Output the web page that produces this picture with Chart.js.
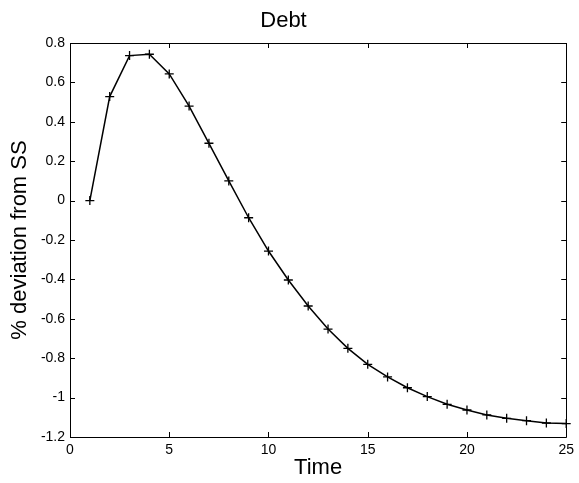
<!DOCTYPE html>
<html>
<head>
<meta charset="utf-8">
<script src="https://cdn.jsdelivr.net/npm/chart.js@4"></script>
<style>
  html, body { margin: 0; padding: 0; background: #fff; }
  #wrap { position: relative; width: 579px; height: 483px; }
</style>
</head>
<body>
<div id="wrap"><canvas id="debtChart"></canvas></div>
<script>
// impulse response of debt, % deviation from steady state
const periods = [1, 2, 3, 4, 5, 6, 7, 8, 9, 10, 11, 12, 13, 14, 15, 16, 17, 18, 19, 20, 21, 22, 23, 24, 25];
const debtDev = [0, 0.528, 0.736, 0.743, 0.643, 0.48, 0.291, 0.10, -0.087, -0.256, -0.403, -0.535, -0.652, -0.75,
                 -0.831, -0.895, -0.95, -0.995, -1.034, -1.063, -1.088, -1.105, -1.117, -1.129, -1.132];
const xTicks = [0, 5, 10, 15, 20, 25];
const yTicks = [0.8, 0.6, 0.4, 0.2, 0, -0.2, -0.4, -0.6, -0.8, -1, -1.2];

const FONT = '"Liberation Sans", Arial, Helvetica, sans-serif';

// matlab-style box with inward tick marks on all four sides
const boxTicks = {
    id: 'boxTicks',
    afterDraw(chart) {
        const { ctx, chartArea: a, scales: { x, y } } = chart;
        const len = 5;
        ctx.save();
        ctx.strokeStyle = '#000';
        ctx.lineWidth = 1;
        ctx.beginPath();
        ctx.rect(Math.round(a.left) + 0.5, Math.round(a.top) + 0.5,
                 Math.round(a.right - a.left), Math.round(a.bottom - a.top));
        xTicks.forEach(v => {
            const px = Math.round(x.getPixelForValue(v)) + 0.5;
            ctx.moveTo(px, a.bottom); ctx.lineTo(px, a.bottom - len);
            ctx.moveTo(px, a.top); ctx.lineTo(px, a.top + len);
        });
        yTicks.forEach(v => {
            const py = Math.round(y.getPixelForValue(v)) + 0.5;
            ctx.moveTo(a.left, py); ctx.lineTo(a.left + len, py);
            ctx.moveTo(a.right, py); ctx.lineTo(a.right - len, py);
        });
        ctx.stroke();
        ctx.restore();
    }
};

new Chart(document.getElementById('debtChart'), {
    type: 'line',
    data: {
        datasets: [{
            label: 'Debt',
            data: periods.map((t, i) => ({ x: t, y: debtDev[i] })),
            borderColor: '#000',
            borderWidth: 1.5,
            pointStyle: 'cross',
            pointRadius: 4.5,
            pointBorderColor: '#000',
            pointBorderWidth: 1.3,
            tension: 0,
            clip: false
        }]
    },
    plugins: [boxTicks],
    options: {
        responsive: true,
        maintainAspectRatio: false,
        animation: false,
        layout: { padding: { left: 0, right: 12, top: 0, bottom: 0 } },
        plugins: {
            legend: { display: false },
            tooltip: { enabled: false },
            title: {
                display: true,
                text: 'Debt',
                color: '#000',
                font: { family: FONT, size: 22, weight: 'normal', lineHeight: 1.2 },
                padding: { top: 8, bottom: 8.6 }
            }
        },
        scales: {
            x: {
                type: 'linear',
                min: 0, max: 25,
                afterFit: s => { s.height = 46; },
                afterBuildTicks: s => { s.ticks = xTicks.map(v => ({ value: v })); },
                grid: { display: false, drawTicks: false },
                border: { display: false },
                ticks: {
                    color: '#000', padding: 5, autoSkip: false, maxRotation: 0,
                    font: { family: FONT, size: 14 }
                },
                title: {
                    display: true, text: 'Time', color: '#000',
                    font: { family: FONT, size: 22, lineHeight: 1.2 },
                    padding: { top: 0, bottom: 2 }
                }
            },
            y: {
                type: 'linear',
                min: -1.2, max: 0.8,
                afterFit: s => { s.width = 70; },
                afterBuildTicks: s => { s.ticks = yTicks.map(v => ({ value: v })); },
                grid: { display: false, drawTicks: false },
                border: { display: false },
                ticks: {
                    color: '#000', padding: 5, autoSkip: false,
                    font: { family: FONT, size: 14 },
                    callback: v => String(Number(v.toFixed(1)))
                },
                title: {
                    display: true, text: '% deviation from SS', color: '#000',
                    font: { family: FONT, size: 22, lineHeight: 1.2 },
                    padding: { top: 7, bottom: 0 }
                }
            }
        }
    }
});
</script>
</body>
</html>
